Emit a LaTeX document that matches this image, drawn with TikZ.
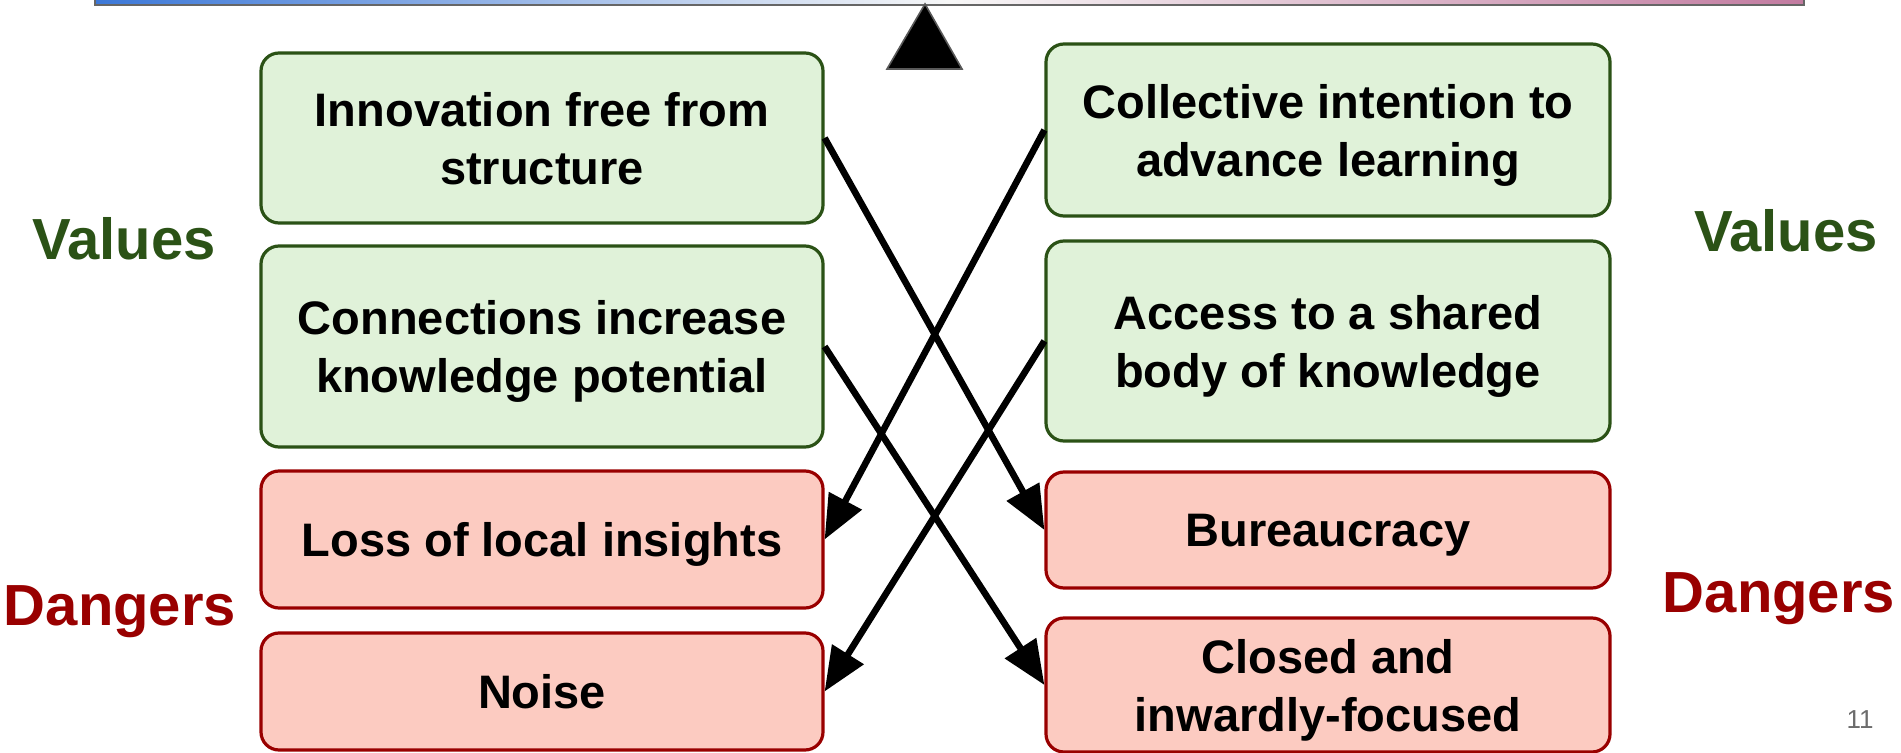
\documentclass[tikz,border=0pt]{standalone}
\usepackage{fontspec}
\setmainfont{Liberation Sans}
\usetikzlibrary{arrows.meta}
\definecolor{gfill}{HTML}{E0F2D9}
\definecolor{gdraw}{HTML}{2B5216}
\definecolor{rfill}{HTML}{FCCBC1}
\definecolor{rdraw}{HTML}{990000}
\definecolor{barblue}{HTML}{3C78D8}
\definecolor{barpink}{HTML}{C27BA0}
\tikzset{
  box/.style={rounded corners=9pt, line width=1.6pt, inner sep=0pt, align=center,
    text depth=0pt, font=\fontsize{23.5}{29}\selectfont\bfseries},
  valbox/.style={box, fill=gfill, draw=gdraw},
  dngbox/.style={box, fill=rfill, draw=rdraw},
  sidelab/.style={anchor=base, inner sep=0pt, font=\fontsize{29}{35}\selectfont\bfseries},
  arr/.style={line width=3.3pt, -{Triangle[length=22pt,width=18pt]}}
}
\begin{document}
\begin{tikzpicture}[x=0.5pt,y=-0.5pt]
\useasboundingbox (0,0) rectangle (1901,753);
% top bar
\shade[left color=barblue, right color=barpink, middle color=white!94!gray] (95,-4) rectangle (1804,5);
\draw[gray!80!black, line width=0.9pt] (95,-4) -- (95,5) -- (1804,5) -- (1804,-4);
% fulcrum
\filldraw[fill=black, draw=gray!70!black, line width=0.8pt] (925,4) -- (962,69) -- (887,69) -- cycle;
% boxes
\node[valbox, minimum width=281pt, minimum height=85pt] (L1) at (542,138) {Innovation free from\\structure};
\node[valbox, minimum width=281pt, minimum height=100.5pt] (L2) at (542,346.5) {Connections increase\\knowledge potential};
\node[dngbox, minimum width=281pt, minimum height=68.5pt] (L3) at (542,539.5) {Loss of local insights};
\node[dngbox, minimum width=281pt, minimum height=58.5pt] (L4) at (542,691.5) {Noise};
\node[valbox, minimum width=282pt, minimum height=86pt] (R1) at (1328,130) {Collective intention to\\advance learning};
\node[valbox, minimum width=282pt, minimum height=100pt] (R2) at (1328,341) {Access to a shared\\body of knowledge};
\node[dngbox, minimum width=282pt, minimum height=58pt] (R3) at (1328,530) {Bureaucracy};
\node[dngbox, minimum width=282pt, minimum height=67pt] (R4) at (1328,685) {Closed and\\inwardly-focused};
% arrows
\draw[arr] (L1.east) -- (R3.west);
\draw[arr] (L2.east) -- (R4.west);
\draw[arr] (R1.west) -- (L3.east);
\draw[arr] (R2.west) -- (L4.east);
% side labels
\node[sidelab, text=gdraw] (VL) at (124,260) {Values};
\node[sidelab, text=rdraw] (DL) at (120,625) {Dangers};
\node[sidelab, text=gdraw] (VR) at (1786,252) {Values};
\node[sidelab, text=rdraw] (DR) at (1779,612) {Dangers};
% page number
\node[anchor=base, inner sep=0pt, text=gray!85!black, font=\fontsize{13}{15}\selectfont] (pg) at (1860,728) {11};
\end{tikzpicture}
\end{document}
